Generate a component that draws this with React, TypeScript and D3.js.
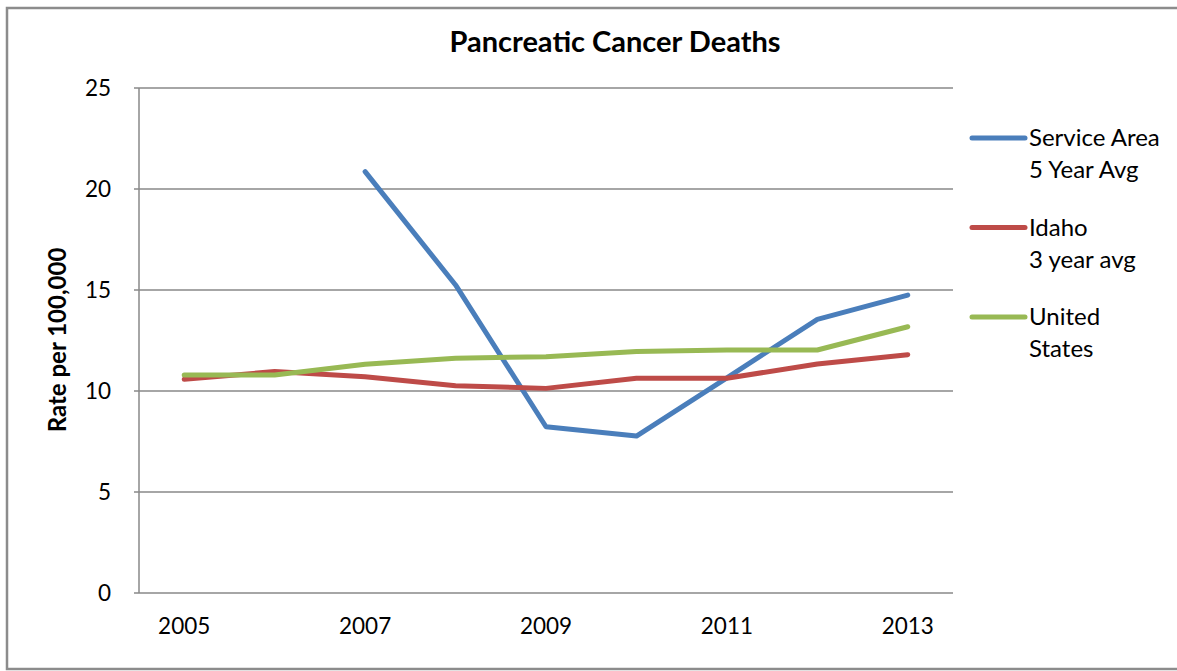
import React, { useEffect, useRef } from 'react';
import * as d3 from 'd3';

const years = ['2005', '2006', '2007', '2008', '2009', '2010', '2011', '2012', '2013'];
const serviceArea = [null, null, 20.86, 15.25, 8.23, 7.77, 10.65, 13.55, 14.75];
const idaho = [10.58, 10.96, 10.71, 10.26, 10.13, 10.63, 10.63, 11.34, 11.8];
const unitedStates = [10.79, 10.79, 11.32, 11.62, 11.7, 11.95, 12.03, 12.03, 13.18];
const yTicks = [0, 5, 10, 15, 20, 25];
const xLabels = ['2005', '2007', '2009', '2011', '2013'];

const seriesList = [
  { name: ['Service Area', '5 Year Avg'], values: serviceArea, color: '#4a7ebb' },
  { name: ['Idaho', '3 year avg'], values: idaho, color: '#be4b48' },
  { name: ['United', 'States'], values: unitedStates, color: '#98b954' },
];

const FONT = "Lato, 'Open Sans', sans-serif";

const App = () => {
  const ref = useRef<SVGSVGElement>(null);

  useEffect(() => {
    const svg = d3.select(ref.current);
    svg.selectAll('*').remove();

    const width = 1177;
    const height = 671;
    const plot = { left: 139, right: 953, top: 88, bottom: 593 };

    svg.append('rect')
      .attr('x', 7).attr('y', 8)
      .attr('width', width + 10).attr('height', height - 10)
      .attr('fill', '#fff')
      .attr('stroke', '#8c8c8c')
      .attr('stroke-width', 2.5);

    const x = d3.scalePoint<string>()
      .domain(years)
      .range([plot.left, plot.right])
      .padding(0.5);

    const y = d3.scaleLinear()
      .domain([0, 25])
      .range([plot.bottom, plot.top]);

    // gridlines
    svg.append('g')
      .selectAll('line')
      .data(yTicks)
      .enter().append('line')
      .attr('x1', plot.left - 5)
      .attr('x2', plot.right)
      .attr('y1', d => y(d))
      .attr('y2', d => y(d))
      .attr('stroke', '#888')
      .attr('stroke-width', 1.5);

    // y axis line
    svg.append('line')
      .attr('x1', plot.left).attr('x2', plot.left)
      .attr('y1', plot.top).attr('y2', plot.bottom)
      .attr('stroke', '#888')
      .attr('stroke-width', 1.5);

    svg.append('g')
      .selectAll('text')
      .data(yTicks)
      .enter().append('text')
      .attr('x', 111)
      .attr('y', d => y(d) + 8)
      .attr('text-anchor', 'end')
      .attr('font-family', FONT)
      .attr('font-size', 22.5)
      .text(d => d);

    svg.append('g')
      .selectAll('text')
      .data(xLabels)
      .enter().append('text')
      .attr('x', d => x(d) as number)
      .attr('y', 634)
      .attr('text-anchor', 'middle')
      .attr('font-family', FONT)
      .attr('font-size', 22.5)
      .text(d => d);

    svg.append('text')
      .attr('x', 615)
      .attr('y', 52)
      .attr('text-anchor', 'middle')
      .attr('font-family', FONT)
      .attr('font-weight', 'bold')
      .attr('font-size', 29)
      .text('Pancreatic Cancer Deaths');

    svg.append('text')
      .attr('transform', 'translate(66,340) rotate(-90)')
      .attr('text-anchor', 'middle')
      .attr('font-family', FONT)
      .attr('font-weight', 'bold')
      .attr('font-size', 24)
      .text('Rate per 100,000');

    const line = d3.line<number | null>()
      .defined(d => d !== null)
      .x((_, i) => x(years[i]) as number)
      .y(d => y(d as number));

    seriesList.forEach(s => {
      svg.append('path')
        .datum(s.values)
        .attr('d', line)
        .attr('fill', 'none')
        .attr('stroke', s.color)
        .attr('stroke-width', 5)
        .attr('stroke-linecap', 'round')
        .attr('stroke-linejoin', 'round');
    });

    // legend
    const legend = svg.append('g');
    seriesList.forEach((s, i) => {
      const ly = 138 + i * 89.5;
      legend.append('line')
        .attr('x1', 972).attr('x2', 1025)
        .attr('y1', ly).attr('y2', ly)
        .attr('stroke', s.color)
        .attr('stroke-width', 5)
        .attr('stroke-linecap', 'round');
      s.name.forEach((t, j) => {
        legend.append('text')
          .attr('x', 1029)
          .attr('y', ly + 8 + j * 32)
          .attr('font-family', FONT)
          .attr('font-size', 24)
          .text(t);
      });
    });
  }, []);

  return (
    <svg
      ref={ref}
      width={1177}
      height={671}
      style={{ position: 'absolute', left: 0, top: 0 }}
    />
  );
};

export default App;
